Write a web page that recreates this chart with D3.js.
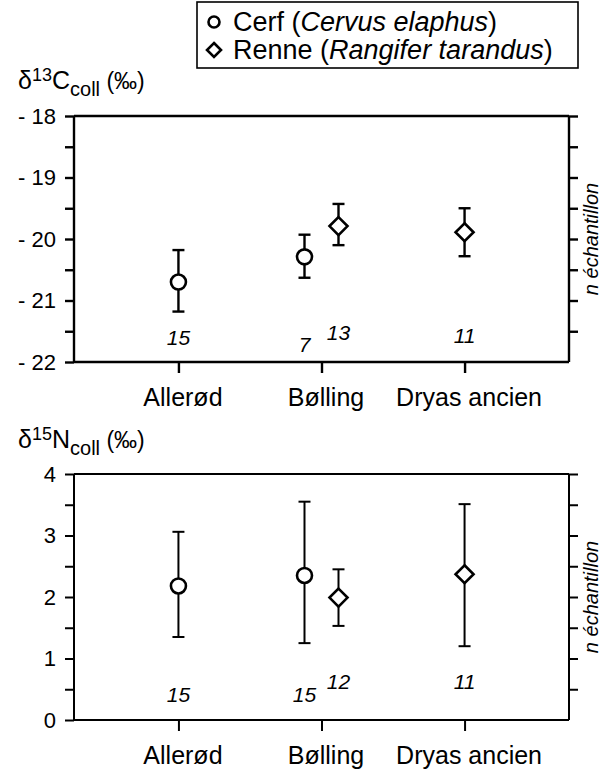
<!DOCTYPE html>
<html>
<head>
<meta charset="utf-8">
<script src="https://cdn.jsdelivr.net/npm/d3@7"></script>
<style>
  body { margin: 0; background: #fff; }
  svg { font-family: "Liberation Sans", Arial, sans-serif; }
  .axis path, .axis line { stroke: #000; }
</style>
</head>
<body>
<div id="chart"></div>
<script>
// periods on the x axis
var periods = ["Allerød", "Bølling", "Dryas ancien"];

// delta13C collagen: mean, upper and lower error bar, n
var carbonCerf = [
  { period: "Allerød", mean: -20.70, hi: -20.18, lo: -21.18, n: 15 },
  { period: "Bølling", mean: -20.29, hi: -19.93, lo: -20.63, n: 7 }
];
var carbonRenne = [
  { period: "Bølling", mean: -19.79, hi: -19.43, lo: -20.10, n: 13 },
  { period: "Dryas ancien", mean: -19.89, hi: -19.50, lo: -20.28, n: 11 }
];

// delta15N collagen
var nitroCerf = [
  { period: "Allerød", mean: 2.18, hi: 3.06, lo: 1.35, n: 15 },
  { period: "Bølling", mean: 2.35, hi: 3.55, lo: 1.25, n: 15 }
];
var nitroRenne = [
  { period: "Bølling", mean: 1.99, hi: 2.45, lo: 1.53, n: 12 },
  { period: "Dryas ancien", mean: 2.37, hi: 3.51, lo: 1.20, n: 11 }
];

var carbonTicks = [-18, -19, -20, -21, -22];
var nitroTicks = [0, 1, 2, 3, 4];

var W = 607, H = 769;
var left = 74, right = 569;

var svg = d3.select("#chart").append("svg")
  .attr("width", W)
  .attr("height", H);

var x = d3.scalePoint()
  .domain(periods)
  .range([left, right])
  .padding(0.73);

// both species in the same period are pushed apart a little
function xPos(d, species, all) {
  var shared = all.filter(function(s) { return s.period == d.period; }).length > 1;
  if (!shared) return x(d.period);
  return x(d.period) + (species == "cerf" ? -17 : 17);
}

function drawPanel(opt) {
  var y = d3.scaleLinear().domain(opt.domain).range([opt.bottom, opt.top]);
  var g = svg.append("g");
  var sw = opt.sw;

  // minor ticks left
  g.append("g")
    .attr("transform", "translate(" + left + ",0)")
    .call(d3.axisLeft(y).tickValues(d3.range(opt.domain[0] + 0.5, opt.domain[1], 1)).tickSize(9).tickFormat(""))
    .call(function(a) {
      a.select(".domain").remove();
      a.selectAll("line").attr("stroke-width", sw);
    });

  // major ticks left with labels
  g.append("g")
    .attr("class", "axis")
    .attr("transform", "translate(" + left + ",0)")
    .call(d3.axisLeft(y).tickValues(opt.ticks).tickSize(9).tickPadding(9)
      .tickFormat(function(d) { return d < 0 ? "- " + Math.abs(d) : d; }))
    .call(function(a) {
      a.select(".domain").attr("stroke-width", sw).attr("d", "M0," + opt.bottom + "V" + opt.top);
      a.selectAll("line").attr("stroke-width", sw);
      a.selectAll("text").attr("font-size", 22).attr("fill", "#000")
        .attr("font-family", "Liberation Sans, Arial, sans-serif");
    });

  // right axis (n échantillon), ticks only
  g.append("g")
    .attr("transform", "translate(" + right + ",0)")
    .call(d3.axisRight(y).tickValues(d3.range(opt.domain[0] + 0.5, opt.domain[1] + 0.01, 0.5)).tickSize(9).tickFormat(""))
    .call(function(a) {
      a.select(".domain").attr("stroke", "#000").attr("stroke-width", sw)
        .attr("d", "M0," + opt.bottom + "V" + opt.top);
      a.selectAll("line").attr("stroke", "#000").attr("stroke-width", sw);
    });

  // top border
  g.append("line")
    .attr("x1", left).attr("x2", right)
    .attr("y1", y(opt.domain[1])).attr("y2", y(opt.domain[1]))
    .attr("stroke", "#000").attr("stroke-width", sw);

  // bottom axis
  g.append("g")
    .attr("class", "axis")
    .attr("transform", "translate(0," + opt.bottom + ")")
    .call(d3.axisBottom(x).tickSize(11).tickPadding(15))
    .call(function(a) {
      a.select(".domain").attr("stroke-width", sw).attr("d", "M" + left + ",0H" + right);
      a.selectAll("line").attr("stroke-width", sw);
      a.selectAll("text").attr("font-size", 25).attr("fill", "#000")
        .attr("dx", 4)
        .attr("font-family", "Liberation Sans, Arial, sans-serif");
    });

  // y title with super and subscript
  var t = g.append("text")
    .attr("x", 18).attr("y", opt.titleY)
    .attr("font-size", 25);
  t.append("tspan").text("δ");
  t.append("tspan").attr("font-size", 18).attr("dy", -8).text(opt.iso);
  t.append("tspan").attr("dy", 8).text(opt.el);
  t.append("tspan").attr("font-size", 20).attr("dy", 7).text("coll");
  t.append("tspan").attr("dy", -7).attr("font-size", 23).text(" (‰)");

  // right title
  g.append("text")
    .attr("transform", "translate(598," + ((opt.top + opt.bottom) / 2) + ") rotate(-90)")
    .attr("text-anchor", "middle")
    .attr("font-size", 20)
    .attr("font-style", "italic")
    .text("n échantillon");

  var all = opt.cerf.concat(opt.renne);

  function bars(data, species) {
    var gg = g.append("g");
    data.forEach(function(d) {
      var cx = xPos(d, species, all);
      gg.append("line").attr("x1", cx).attr("x2", cx)
        .attr("y1", y(d.hi)).attr("y2", y(d.lo))
        .attr("stroke", "#000").attr("stroke-width", sw);
      [d.hi, d.lo].forEach(function(v) {
        gg.append("line").attr("x1", cx - 6).attr("x2", cx + 6)
          .attr("y1", y(v)).attr("y2", y(v))
          .attr("stroke", "#000").attr("stroke-width", sw);
      });
    });
  }
  bars(opt.cerf, "cerf");
  bars(opt.renne, "renne");

  g.selectAll(".cerf")
    .data(opt.cerf)
    .enter()
    .append("circle")
    .attr("cx", function(d) { return xPos(d, "cerf", all); })
    .attr("cy", function(d) { return y(d.mean); })
    .attr("r", 7.5)
    .attr("fill", "#fff")
    .attr("stroke", "#000")
    .attr("stroke-width", 2.6);

  g.selectAll(".renne")
    .data(opt.renne)
    .enter()
    .append("path")
    .attr("d", "M0,-9L9,0L0,9L-9,0Z")
    .attr("transform", function(d) {
      return "translate(" + xPos(d, "renne", all) + "," + y(d.mean) + ")";
    })
    .attr("fill", "#fff")
    .attr("stroke", "#000")
    .attr("stroke-width", 2.6);

  // sample counts
  var counts = opt.cerf.map(function(d) { return { d: d, s: "cerf" }; })
    .concat(opt.renne.map(function(d) { return { d: d, s: "renne" }; }));
  g.selectAll(".n")
    .data(counts)
    .enter()
    .append("text")
    .attr("x", function(c) { return xPos(c.d, c.s, all); })
    .attr("y", function(c, i) { return opt.nY[i]; })
    .attr("text-anchor", "middle")
    .attr("font-size", 21)
    .attr("font-style", "italic")
    .text(function(c) { return c.d.n; });
}

drawPanel({
  domain: [-22, -18], top: 116, bottom: 362, ticks: carbonTicks,
  cerf: carbonCerf, renne: carbonRenne, sw: 2.4,
  iso: "13", el: "C", titleY: 89,
  nY: [345, 352, 340, 343]
});

drawPanel({
  domain: [0, 4], top: 474, bottom: 720, ticks: nitroTicks,
  cerf: nitroCerf, renne: nitroRenne, sw: 2,
  iso: "15", el: "N", titleY: 448,
  nY: [702, 702, 689, 689]
});

// legend
var leg = svg.append("g");
leg.append("rect")
  .attr("x", 197).attr("y", 2)
  .attr("width", 381).attr("height", 66)
  .attr("fill", "#fff").attr("stroke", "#000").attr("stroke-width", 1.6);
leg.append("circle").attr("cx", 214).attr("cy", 22).attr("r", 5.5)
  .attr("fill", "#fff").attr("stroke", "#000").attr("stroke-width", 2.6);
leg.append("path").attr("d", "M0,-7L7,0L0,7L-7,0Z")
  .attr("transform", "translate(214,50)")
  .attr("fill", "#fff").attr("stroke", "#000").attr("stroke-width", 2.6);
var l1 = leg.append("text").attr("x", 233).attr("y", 31).attr("font-size", 27);
l1.append("tspan").text("Cerf (");
l1.append("tspan").attr("font-style", "italic").text("Cervus elaphus");
l1.append("tspan").text(")");
var l2 = leg.append("text").attr("x", 233).attr("y", 59).attr("font-size", 27);
l2.append("tspan").text("Renne (");
l2.append("tspan").attr("font-style", "italic").text("Rangifer tarandus");
l2.append("tspan").text(")");
</script>
</body>
</html>
